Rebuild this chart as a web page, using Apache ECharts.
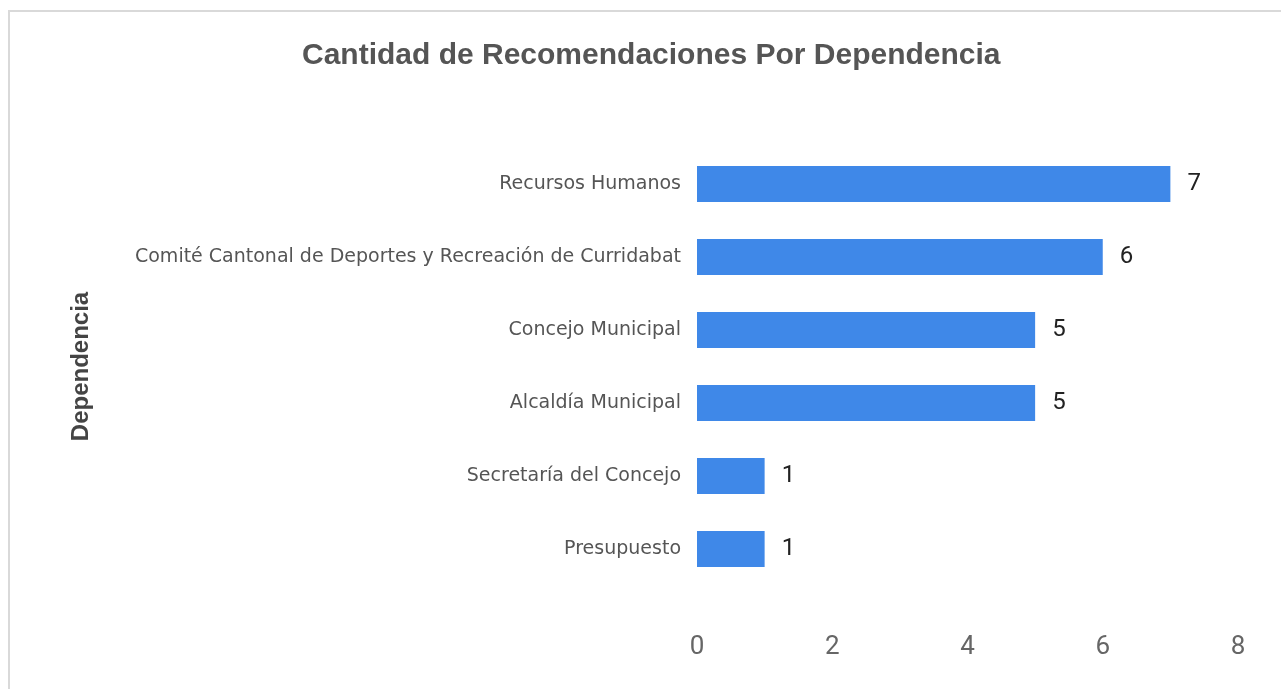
<!DOCTYPE html>
<html>
<head>
<meta charset="utf-8">
<script src="https://cdn.jsdelivr.net/npm/echarts@6/dist/echarts.min.js"></script>
<style>
    html, body {margin: 0; padding: 0; background: #fff; overflow: hidden;}
    #frame {position: absolute; left: 8px; top: 10px; width: 1300px; height: 700px; border: 2px solid #d9d9d9;}
    #chart {position: absolute; left: -10px; top: -12px; width: 1281px; height: 689px;}
</style>
</head>
<body>
<div id="frame"><div id="chart"></div></div>
<script>
// categories, top to bottom
var aDependencias = ['Recursos Humanos', 'Comité Cantonal de Deportes y Recreación de Curridabat',
    'Concejo Municipal', 'Alcaldía Municipal', 'Secretaría del Concejo', 'Presupuesto'];
var aCantidad = [7, 6, 5, 5, 1, 1];
var aTicks = [0, 2, 4, 6, 8];

function GetOption() {
    var jOption = {
        backgroundColor: 'transparent',
        animation: false,
        title: {
            text: 'Cantidad de Recomendaciones Por Dependencia',
            left: 297,
            top: 36,
            textStyle: {fontFamily: 'Liberation Sans', fontSize: 30, fontWeight: 'bold', color: '#555'}
        },
        grid: {left: 697, right: 43, top: 147.5, height: 438},
        xAxis: {
            type: 'value',
            min: aTicks[0],
            max: aTicks[aTicks.length - 1],
            interval: 2,
            axisLine: {show: false},
            axisTick: {show: false},
            splitLine: {show: false},
            axisLabel: {margin: 49, fontFamily: '"Liberation Sans Narrow", Roboto', fontSize: 26, color: '#666'}
        },
        yAxis: {
            type: 'category',
            inverse: true,
            data: aDependencias,
            name: 'Dependencia',
            nameLocation: 'middle',
            nameGap: 604,
            nameTextStyle: {fontFamily: 'Liberation Sans', fontSize: 24, fontWeight: 'bold', color: '#444'},
            axisLine: {show: false},
            axisTick: {show: false},
            axisLabel: {margin: 16, fontFamily: 'DejaVu Sans', fontSize: 19, color: '#555'}
        },
        series: [{
            type: 'bar',
            data: aCantidad,
            barWidth: 36,
            itemStyle: {color: '#3f88e8'},
            label: {
                show: true,
                position: 'right',
                distance: 17,
                fontFamily: 'Roboto',
                fontSize: 24,
                color: '#222'
            }
        }]
    };
    return jOption;
}

var myChart = echarts.init(document.getElementById('chart'));
myChart.setOption(GetOption());
</script>
</body>
</html>
